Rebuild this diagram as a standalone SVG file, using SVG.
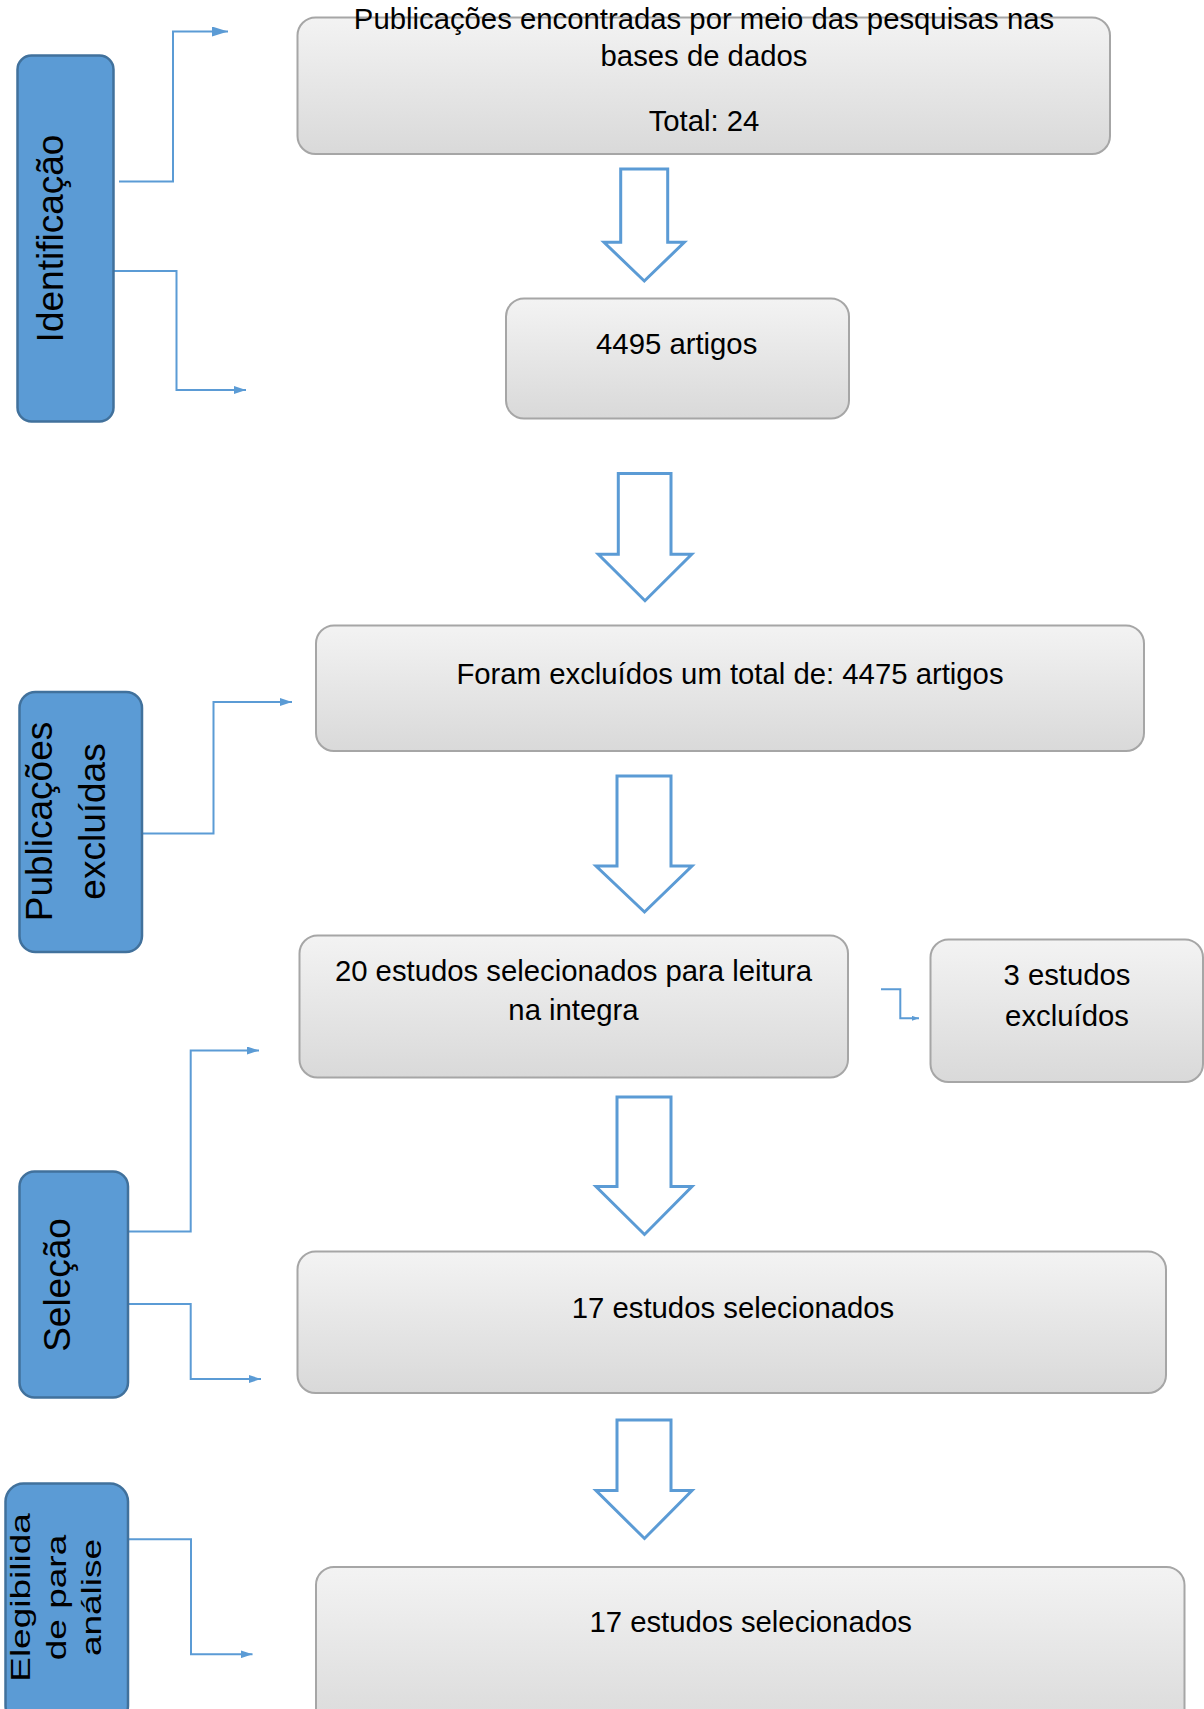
<svg xmlns="http://www.w3.org/2000/svg" width="1204" height="1709" viewBox="0 0 1204 1709">
<style>
.box{stroke:#a6a6a6;stroke-width:2;fill:url(#g)}
.blue{fill:#5b9bd5;stroke:#41719c;stroke-width:2.5}
.t{font-family:"Liberation Sans",Arial,sans-serif;font-size:29.3px;fill:#000;text-anchor:middle}
.vt{font-family:"Liberation Sans",Arial,sans-serif;font-size:37px;fill:#000;text-anchor:middle}
.con{fill:none;stroke:#5b9bd5;stroke-width:2}
.big{fill:#fff;stroke:#5b9bd5;stroke-width:3;stroke-linejoin:miter}
</style>
<defs>
<linearGradient id="g" x1="0" y1="0" x2="0" y2="1">
<stop offset="0" stop-color="#f3f3f3"/>
<stop offset="1" stop-color="#d9d9d9"/>
</linearGradient>
<marker id="ah" markerUnits="userSpaceOnUse" markerWidth="16" markerHeight="10" refX="16" refY="5" orient="auto">
<path d="M0,0 L16,5 L0,10 z" fill="#5b9bd5"/>
</marker>
<marker id="am" markerUnits="userSpaceOnUse" markerWidth="12" markerHeight="8" refX="12" refY="4" orient="auto">
<path d="M0,0 L12,4 L0,8 z" fill="#5b9bd5"/>
</marker>
<marker id="as" markerUnits="userSpaceOnUse" markerWidth="7" markerHeight="5" refX="7" refY="2.5" orient="auto">
<path d="M0,0 L7,2.5 L0,5 z" fill="#5b9bd5"/>
</marker>
</defs>

<g id="connectors">
<path class="con" d="M119,181.5 H173 V31.5 H228" marker-end="url(#ah)"/>
<path class="con" d="M113.5,271 H176.5 V390 H246" marker-end="url(#am)"/>
<path class="con" stroke-width="1.6" d="M142,833.5 H213.5 V702 H292" marker-end="url(#am)"/>
<path class="con" stroke-width="1.6" d="M128,1231.5 H190.7 V1050.5 H259" marker-end="url(#am)"/>
<path class="con" stroke-width="1.6" d="M128,1304 H190.7 V1379 H261" marker-end="url(#am)"/>
<path class="con" stroke-width="1.6" d="M128,1539.3 H191 V1654.3 H252.5" marker-end="url(#am)"/>
<path class="con" stroke-width="1.2" d="M881,989.3 H900.3 V1018.3 H919" marker-end="url(#as)"/>
<path id="arrow1" class="big" d="M620.7,169 H667.7 V242.3 H684.3 L644.3,281 L604,242.3 H620.7 Z"/>
<path id="arrow2" class="big" d="M618.3,473.5 H671 V554.3 H691.7 L645,600.7 L598.3,554.3 H618.3 Z"/>
<path id="arrow3" class="big" d="M617,776 H671 V866 H692 L644.5,912 L596,866 H617 Z"/>
<path id="arrow4" class="big" d="M617,1097 H671 V1186.6 H692 L644.5,1234.5 L596,1186.6 H617 Z"/>
<path id="arrow5" class="big" d="M617,1420 H671 V1490.6 H692 L644.5,1538.5 L596,1490.6 H617 Z"/>
</g>

<g id="identificacao">
<rect class="blue" x="17.5" y="55.5" width="96" height="366" rx="14"/>
<text class="vt" transform="translate(63,238.5) rotate(-90)">Identificação</text>
</g>

<g id="publicacoes-excluidas">
<rect class="blue" x="19.5" y="692" width="122.5" height="260" rx="16"/>
<text class="vt" transform="translate(52,821.5) rotate(-90)">Publicações</text>
<text class="vt" transform="translate(105,821.5) rotate(-90)">excluídas</text>
</g>

<g id="selecao">
<rect class="blue" x="19.5" y="1171.5" width="108.5" height="226" rx="15"/>
<text class="vt" transform="translate(70,1285) rotate(-90)">Seleção</text>
</g>

<g id="elegibilidade">
<rect class="blue" x="5.5" y="1483.5" width="122.5" height="240" rx="18"/>
<text class="vt" font-size="36" transform="translate(30,1597.5) rotate(-90) scale(1,0.74)">Elegibilida</text>
<text class="vt" font-size="36" transform="translate(65.5,1597.5) rotate(-90) scale(1,0.74)">de para</text>
<text class="vt" font-size="36" transform="translate(101,1597.5) rotate(-90) scale(1,0.74)">análise</text>
</g>

<g id="publicacoes">
<rect class="box" x="297.5" y="17.5" width="812.5" height="136.5" rx="18"/>
<text class="t" x="704" y="28.5">Publicações encontradas por meio das pesquisas nas</text>
<text class="t" x="704" y="65.5">bases de dados</text>
<text class="t" x="704" y="131">Total: 24</text>
</g>

<g id="artigos">
<rect class="box" x="506" y="298.5" width="343" height="120" rx="18"/>
<text class="t" x="676.7" y="354.3">4495 artigos</text>
</g>

<g id="excluidos">
<rect class="box" x="316" y="625.5" width="828" height="125.5" rx="18"/>
<text class="t" x="730" y="683.5">Foram excluídos um total de: 4475 artigos</text>
</g>

<g id="leitura">
<rect class="box" x="299.5" y="935.5" width="548.5" height="142" rx="18"/>
<text class="t" x="573.5" y="981">20 estudos selecionados para leitura</text>
<text class="t" x="573.5" y="1020">na integra</text>
</g>

<g id="tres-excluidos">
<rect class="box" x="930.5" y="939.5" width="272.5" height="142.5" rx="18"/>
<text class="t" x="1067" y="985">3 estudos</text>
<text class="t" x="1067" y="1026">excluídos</text>
</g>

<g id="selecionados1">
<rect class="box" x="297.5" y="1251.5" width="868.5" height="141.5" rx="18"/>
<text class="t" x="733" y="1317.5">17 estudos selecionados</text>
</g>

<g id="selecionados2">
<rect class="box" x="316" y="1567" width="868.5" height="170" rx="18"/>
<text class="t" x="750.7" y="1632">17 estudos selecionados</text>
</g>
</svg>
